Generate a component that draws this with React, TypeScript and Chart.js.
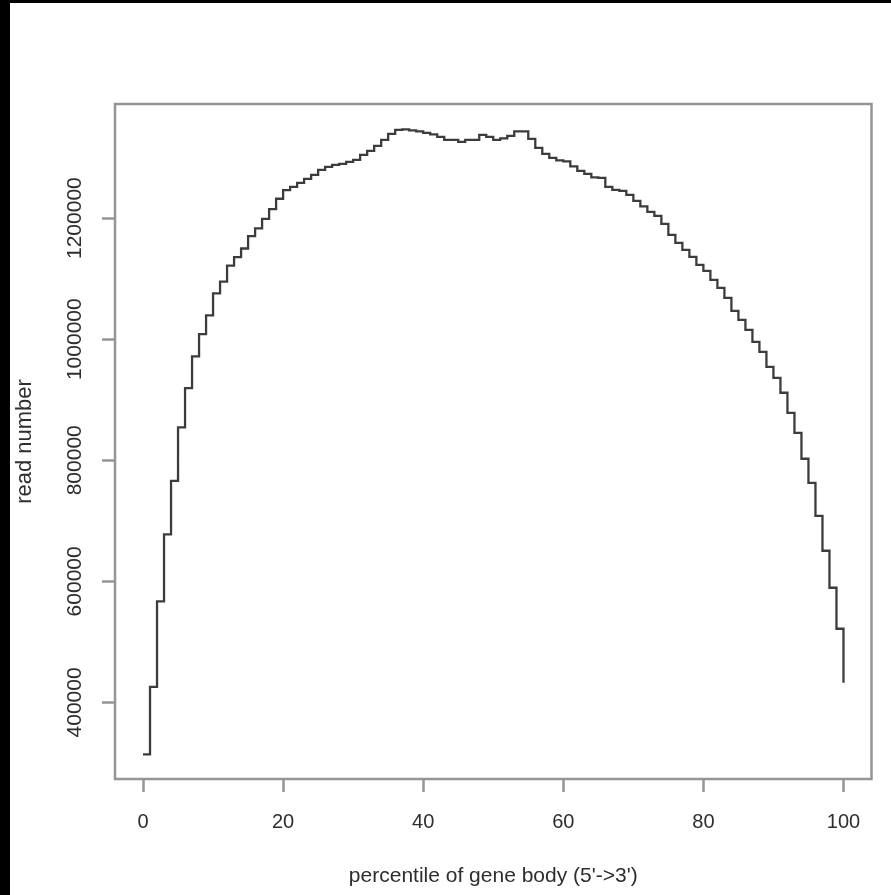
import React, { useEffect, useRef } from "react";
import { Chart, registerables } from "chart.js";

Chart.register(...registerables);

// ---- data ----
const percentiles = [
  0, 1, 2, 3, 4, 5, 6, 7, 8, 9,
  10, 11, 12, 13, 14, 15, 16, 17, 18, 19,
  20, 21, 22, 23, 24, 25, 26, 27, 28, 29,
  30, 31, 32, 33, 34, 35, 36, 37, 38, 39,
  40, 41, 42, 43, 44, 45, 46, 47, 48, 49,
  50, 51, 52, 53, 54, 55, 56, 57, 58, 59,
  60, 61, 62, 63, 64, 65, 66, 67, 68, 69,
  70, 71, 72, 73, 74, 75, 76, 77, 78, 79,
  80, 81, 82, 83, 84, 85, 86, 87, 88, 89,
  90, 91, 92, 93, 94, 95, 96, 97, 98, 99,
  100,
];

const readCounts = [
  314300, 425600, 567000, 677500, 766100, 854200, 919100, 971700, 1008400, 1039300,
  1075800, 1095100, 1121500, 1135600, 1149800, 1170300, 1183100, 1198700, 1214700, 1232000,
  1246100, 1251700, 1258300, 1264900, 1271500, 1279800, 1284700, 1288000, 1289700, 1293000,
  1296300, 1304500, 1311100, 1319400, 1329300, 1339200, 1345800, 1346600, 1345000, 1343300,
  1340900, 1338400, 1334300, 1329300, 1329300, 1326000, 1329300, 1329300, 1337600, 1334300,
  1329300, 1331800, 1335900, 1343300, 1343300, 1331000, 1316100, 1306200, 1299600, 1295400,
  1293800, 1285500, 1278100, 1273100, 1267400, 1266500, 1251700, 1246700, 1245100, 1238500,
  1228600, 1219500, 1210400, 1203800, 1190600, 1172400, 1159200, 1147600, 1136100, 1122900,
  1113000, 1098100, 1084900, 1068400, 1046900, 1032000, 1015500, 995700, 979200, 954400,
  936200, 911500, 878400, 845400, 802500, 762800, 708300, 650500, 589400, 521700,
  432500,
];

const xTicks = [0, 20, 40, 60, 80, 100];
const yTicks = [400000, 600000, 800000, 1000000, 1200000];
const xTitle = "percentile of gene body (5'->3')";
const yTitle = "read number";

// ---- styles ----
const FONT = "'Liberation Sans', Arial, Helvetica, sans-serif";
const TEXT = "#2e2e2e";
const BOX = "#959595";
const LINE = "#3c3c3c";

const boxPlugin = {
  id: "plotBox",
  afterDraw(chart: any) {
    const { ctx, chartArea: a } = chart;
    ctx.save();
    ctx.strokeStyle = BOX;
    ctx.lineWidth = 2.5;
    ctx.strokeRect(a.left, a.top, a.right - a.left, a.bottom - a.top);
    ctx.restore();
  },
};

export default function App() {
  const ref = useRef<HTMLCanvasElement | null>(null);

  useEffect(() => {
    if (!ref.current) return;
    const points = percentiles.map((p, i) => ({ x: p, y: readCounts[i] }));
    const chart = new Chart(ref.current, {
      type: "line",
      data: {
        datasets: [
          {
            data: points,
            stepped: "before",
            borderColor: LINE,
            borderWidth: 2.3,
            pointRadius: 0,
            fill: false,
          },
        ],
      },
      options: {
        animation: false,
        responsive: false,
        devicePixelRatio: 1,
        layout: { padding: { top: 101, right: 19.5, left: 0, bottom: 0 } },
        plugins: { legend: { display: false }, tooltip: { enabled: false } },
        scales: {
          x: {
            type: "linear",
            min: -4,
            max: 104,
            afterBuildTicks: (s: any) => {
              s.ticks = xTicks.map((v) => ({ value: v }));
            },
            afterFit: (s: any) => {
              s.height = 116;
            },
            grid: {
              display: true,
              drawOnChartArea: false,
              drawTicks: true,
              tickLength: 13,
              tickColor: BOX,
              tickWidth: 2.5,
              color: BOX,
            },
            border: { display: false },
            ticks: {
              autoSkip: false,
              maxRotation: 0,
              minRotation: 0,
              padding: 18,
              color: TEXT,
              font: { family: FONT, size: 20 },
              callback: (v: any) => String(v),
            },
            title: {
              display: true,
              text: xTitle,
              color: TEXT,
              font: { family: FONT, size: 21 },
              padding: { top: 0, bottom: 6 },
            },
          },
          y: {
            type: "linear",
            min: 273500,
            max: 1388500,
            afterBuildTicks: (s: any) => {
              s.ticks = yTicks.map((v) => ({ value: v }));
            },
            afterFit: (s: any) => {
              s.width = 105;
            },
            grid: {
              display: true,
              drawOnChartArea: false,
              drawTicks: true,
              tickLength: 13,
              tickColor: BOX,
              tickWidth: 2.5,
              color: BOX,
            },
            border: { display: false },
            ticks: {
              autoSkip: false,
              minRotation: 90,
              maxRotation: 90,
              crossAlign: "center",
              padding: -14,
              color: TEXT,
              font: { family: FONT, size: 21 },
              callback: (v: any) => String(v),
            },
            title: {
              display: true,
              text: yTitle,
              color: TEXT,
              font: { family: FONT, size: 22 },
              padding: { top: 2, bottom: 0 },
            },
          },
        },
      },
      plugins: [boxPlugin],
    } as any);
    return () => chart.destroy();
  }, []);

  return (
    <div
      style={{
        position: "absolute",
        left: 0,
        top: 0,
        width: 891,
        height: 895,
        background: "#000",
        overflow: "hidden",
      }}
    >
      <canvas
        ref={ref}
        width={881}
        height={892}
        style={{
          position: "absolute",
          left: 10,
          top: 3,
          width: 881,
          height: 892,
          background: "#fff",
        }}
      />
    </div>
  );
}
